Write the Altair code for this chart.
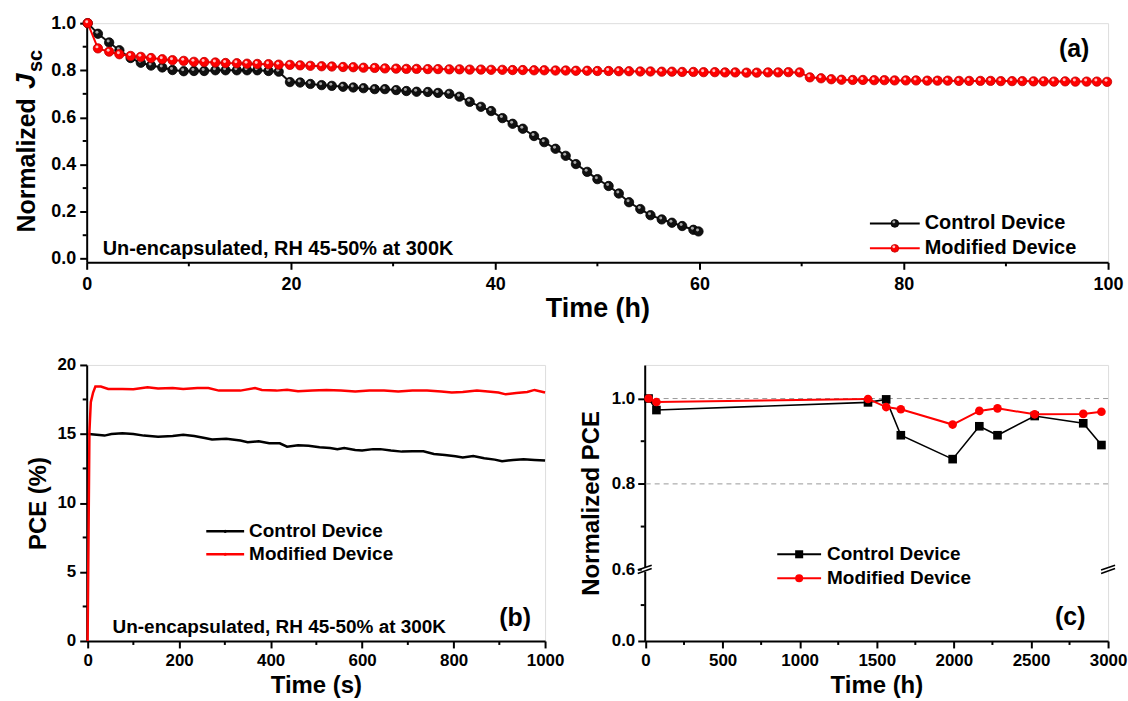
import altair as alt
import pandas as pd

FONT = "Liberation Sans"
BLACK = "#000000"
RED = "#ff0000"

# ---------------- (a) normalized Jsc during the humidity test ----------------
jsc_time = [0.1, 1.1, 2.2, 3.2, 4.3, 5.3, 6.3, 7.4, 8.4, 9.5,
            10.5, 11.5, 12.6, 13.6, 14.7, 15.7, 16.7, 17.8, 18.8, 19.9,
            20.9, 21.9, 23.0, 24.0, 25.1, 26.1, 27.1, 28.2, 29.2, 30.3,
            31.3, 32.3, 33.4, 34.4, 35.5, 36.5, 37.5, 38.6, 39.6, 40.7,
            41.7, 42.7, 43.8, 44.8, 45.9, 46.9, 47.9, 49.0, 50.0, 51.1,
            52.1, 53.1, 54.2, 55.2, 56.3, 57.3, 58.3, 59.4, 60.4, 61.5,
            62.5, 63.5, 64.6, 65.6, 66.7, 67.7, 68.7, 69.8, 70.8, 71.9,
            72.9, 73.9, 75.0, 76.0, 77.1, 78.1, 79.1, 80.2, 81.2, 82.3,
            83.3, 84.3, 85.4, 86.4, 87.5, 88.5, 89.5, 90.6, 91.6, 92.7,
            93.7, 94.7, 95.8, 96.8, 97.9, 98.9, 99.9]
jsc_time_control = jsc_time[:58] + [59.9]
jsc_control = [1.0, 0.955, 0.918, 0.885, 0.852, 0.832, 0.82, 0.812, 0.801, 0.796,
               0.797, 0.797, 0.8, 0.8, 0.8, 0.8, 0.8, 0.797, 0.794, 0.75,
               0.748, 0.742, 0.737, 0.734, 0.73, 0.727, 0.724, 0.72, 0.72, 0.716,
               0.712, 0.709, 0.708, 0.704, 0.70, 0.688, 0.666, 0.645, 0.627, 0.597,
               0.573, 0.552, 0.521, 0.495, 0.467, 0.437, 0.402, 0.369, 0.338, 0.309,
               0.277, 0.24, 0.211, 0.185, 0.167, 0.153, 0.139, 0.123, 0.116]
jsc_modified = [1.0, 0.893, 0.879, 0.868, 0.861, 0.857, 0.852, 0.847, 0.843, 0.84,
                0.836, 0.835, 0.833, 0.831, 0.83, 0.828, 0.827, 0.826, 0.824, 0.823,
                0.821, 0.819, 0.817, 0.816, 0.814, 0.813, 0.811, 0.81, 0.808, 0.807,
                0.806, 0.806, 0.805, 0.805, 0.804, 0.804, 0.803, 0.803, 0.802, 0.802,
                0.801, 0.801, 0.80, 0.80, 0.799, 0.799, 0.798, 0.798, 0.797, 0.797,
                0.796, 0.796, 0.795, 0.795, 0.794, 0.794, 0.793, 0.793, 0.792, 0.792,
                0.791, 0.791, 0.79, 0.79, 0.791, 0.791, 0.792, 0.791, 0.77, 0.766,
                0.762, 0.76, 0.759, 0.759, 0.758, 0.758, 0.757, 0.757, 0.757, 0.756,
                0.756, 0.756, 0.755, 0.755, 0.755, 0.755, 0.754, 0.754, 0.754, 0.753,
                0.753, 0.752, 0.753, 0.752, 0.752, 0.752, 0.751]
a_ticks_x = [0, 20, 40, 60, 80, 100]
a_minor_x = [10, 30, 50, 70, 90]
a_ticks_y = [0.0, 0.2, 0.4, 0.6, 0.8, 1.0]
a_minor_y = [0.1, 0.3, 0.5, 0.7, 0.9]

# ---------------- (b) PCE under continuous operation ----------------
pce_s_time_control = [2, 37, 52, 76, 100, 123, 154, 186, 209, 233,
                      256, 272, 303, 334, 350, 374, 397, 420, 436, 460,
                      483, 507, 530, 546, 561, 585, 600, 624, 640, 663,
                      687, 710, 734, 757, 781, 804, 820, 843, 867, 890,
                      906, 930, 953, 977, 1000]
pce_s_control = [15.0, 14.88, 15.0, 15.05, 15.0, 14.88, 14.8, 14.85, 14.95, 14.85,
                 14.7, 14.6, 14.66, 14.52, 14.4, 14.47, 14.32, 14.32, 14.08, 14.18,
                 14.15, 14.03, 13.98, 13.9, 13.98, 13.84, 13.8, 13.9, 13.9, 13.8,
                 13.72, 13.74, 13.74, 13.55, 13.48, 13.38, 13.3, 13.4, 13.24, 13.14,
                 13.02, 13.12, 13.16, 13.12, 13.07]
pce_s_time_modified = [0, 4, 7, 12, 17, 29, 45, 76, 100, 131,
                       154, 186, 209, 240, 264, 287, 334, 366, 381, 413,
                       436, 460, 491, 522, 554, 585, 616, 648, 679, 710,
                       742, 773, 796, 820, 851, 875, 898, 914, 937, 961,
                       977, 1000]
pce_s_modified = [0, 15.2, 17.3, 18.0, 18.43, 18.43, 18.26, 18.26, 18.24, 18.38,
                  18.29, 18.33, 18.26, 18.33, 18.33, 18.14, 18.14, 18.33, 18.19, 18.14,
                  18.21, 18.09, 18.14, 18.19, 18.14, 18.07, 18.14, 18.14, 18.07, 18.14,
                  18.14, 18.07, 18.0, 18.04, 18.14, 18.07, 18.0, 17.87, 17.97, 18.04,
                  18.19, 18.0]
b_ticks_x = [0, 200, 400, 600, 800, 1000]
b_minor_x = [100, 300, 500, 700, 900]
b_ticks_y = [0, 5, 10, 15, 20]
b_minor_y = [2.5, 7.5, 12.5, 17.5]

# ---------------- (c) long-term normalized PCE ----------------
pce_h_time = [20, 71, 1443, 1561, 1656, 1992, 2165, 2283, 2524, 2839, 2957]
pce_h_control = [1.0, 0.973, 0.991, 0.998, 0.914, 0.858, 0.935, 0.914, 0.959, 0.942, 0.891]
pce_h_modified = [1.0, 0.992, 0.999, 0.980, 0.975, 0.939, 0.971, 0.977, 0.963, 0.964, 0.969]
c_ticks_x = [0, 500, 1000, 1500, 2000, 2500, 3000]
c_minor_x = [250, 750, 1250, 1750, 2250, 2750]
c_ref_levels = [0.8, 1.0]
# broken y axis: the stretch 0.0 ... 0.6 is squeezed into a short segment,
# so "0.0" sits at a stand-in position just below the break at 0.6
C_BREAK = 0.6
C_ZERO = 0.4319
C_TOP = 1.0787
c_ticks_y = [C_ZERO, 0.6, 0.8, 1.0]
c_minor_y = [0.516, 0.7, 0.9]

SERIES = ["Control Device", "Modified Device"]
NOTE = "Un-encapsulated, RH 45-50% at 300K"

A_W, A_H = 1025, 240
B_W, C_W, BC_H = 460, 465, 277


def axis(**kw):
    base = dict(domainColor="black", domainWidth=2, tickColor="black", tickWidth=2,
                tickSize=7, labelFont=FONT, labelFontWeight="bold", labelColor="black",
                titleFont=FONT, titleFontWeight="bold", titleColor="black", grid=False,
                labelFlush=False, labelOverlap=False)
    base.update(kw)
    return alt.Axis(**base)


def minor_x(values, h, length=4):
    df = pd.DataFrame({"t": values})
    return alt.Chart(df).mark_rule(color="black", strokeWidth=2).encode(
        x="t:Q", y=alt.value(h), y2=alt.value(h + length))


def minor_y(values, length=4):
    df = pd.DataFrame({"v": values})
    return alt.Chart(df).mark_rule(color="black", strokeWidth=2).encode(
        y="v:Q", x=alt.value(0), x2=alt.value(-length))


def text(s, x, y, size, align="left", **kw):
    props = dict(align=align, baseline="middle", font=FONT, fontWeight="bold",
                 fontSize=size, color="black")
    props.update(kw)
    return alt.Chart(pd.DataFrame({"s": [s]})).mark_text(**props).encode(
        x=alt.value(x), y=alt.value(y), text="s:N")


def legend_row(name, color, x0, x1, xt, y, size, marker, line_w=2):
    lab = pd.DataFrame({"s": [name]})
    layers = [alt.Chart(lab).mark_rule(color=color, strokeWidth=line_w).encode(
        x=alt.value(x0), x2=alt.value(x1), y=alt.value(y))]
    xm = (x0 + x1) / 2
    for m in marker:
        layers.append(alt.Chart(lab).mark_point(opacity=1, filled=True, **m).encode(
            x=alt.value(xm), y=alt.value(y)))
    layers.append(alt.Chart(lab).mark_text(align="left", baseline="middle", font=FONT,
                                           fontWeight="bold", fontSize=size,
                                           color="black").encode(
        x=alt.value(xt), y=alt.value(y), text="s:N"))
    return layers


def sphere(color, rim, glint, size=75):
    return [dict(shape="circle", size=size, color=color, stroke=rim, strokeWidth=0.8),
            dict(shape="circle", size=8, color=glint, xOffset=-1, yOffset=-1.5)]


# ---------- panel (a) ----------
a_x = alt.X("t:Q", scale=alt.Scale(domain=[0, 100], nice=False, zero=False),
            axis=axis(values=a_ticks_x, title="Time (h)", labelFontSize=18,
                      titleFontSize=27, labelPadding=6, titlePadding=2))
a_y = alt.Y("v:Q", scale=alt.Scale(domain=[-0.015, 1.0], nice=False, zero=False),
            axis=axis(values=a_ticks_y, format=".1f", title=None, labelFontSize=18,
                      labelPadding=4))


def sphere_series(df, color, rim, glint):
    line = alt.Chart(df).mark_line(color=color, strokeWidth=2).encode(x=a_x, y=a_y)
    ball = alt.Chart(df).mark_circle(size=88, color=color, opacity=1, stroke=rim,
                                     strokeWidth=0.8).encode(x="t:Q", y="v:Q")
    shine = alt.Chart(df).mark_circle(size=9, color=glint, opacity=1, xOffset=-1,
                                      yOffset=-1.5).encode(x="t:Q", y="v:Q")
    return [line, ball, shine]


a_ctrl = pd.DataFrame({"t": jsc_time_control, "v": jsc_control})
a_mod = pd.DataFrame({"t": jsc_time, "v": jsc_modified})

a_layers = (sphere_series(a_ctrl, "#111111", "#000000", "#a8a8a8")
            + sphere_series(a_mod, RED, "#c00000", "#ffc4c4")
            + [minor_x(a_minor_x, A_H), minor_y(a_minor_y)]
            + legend_row(SERIES[0], BLACK, 786, 836, 841, 201, 20,
                         sphere("#111111", "#000000", "#a8a8a8", 60))
            + legend_row(SERIES[1], RED, 786, 836, 841, 226, 20,
                         sphere(RED, "#c00000", "#ffc4c4", 60))
            + [text(NOTE, 16, 227, 20),
               text("(a)", 991, 26, 25, align="center"),
               text("Normalized", -52, 210, 25, angle=270, baseline="alphabetic"),
               text("J", -52, 66, 28, angle=270, baseline="alphabetic",
                    fontStyle="italic"),
               text("sc", -45, 49, 20, angle=270, baseline="alphabetic")])
panel_a = alt.layer(*a_layers).properties(width=A_W, height=A_H)

# ---------- panel (b) ----------
b_x = alt.X("t:Q", scale=alt.Scale(domain=[-2, 1000], nice=False, zero=False),
            axis=axis(values=b_ticks_x, format="d", title="Time (s)", labelFontSize=17,
                      titleFontSize=24, labelPadding=5, titlePadding=5))
b_y = alt.Y("v:Q", scale=alt.Scale(domain=[0, 20], nice=False),
            axis=axis(values=b_ticks_y, title="PCE (%)", labelFontSize=17,
                      titleFontSize=24, labelPadding=4, titlePadding=6))
b_ctrl = pd.DataFrame({"t": pce_s_time_control, "v": pce_s_control})
b_mod = pd.DataFrame({"t": pce_s_time_modified, "v": pce_s_modified})
small_dot = lambda c: [dict(shape="circle", size=10, color=c)]
b_layers = ([alt.Chart(b_ctrl).mark_line(color=BLACK, strokeWidth=2.5).encode(x=b_x, y=b_y),
             alt.Chart(b_mod).mark_line(color=RED, strokeWidth=2.5).encode(x="t:Q", y="v:Q"),
             minor_x(b_minor_x, BC_H), minor_y(b_minor_y)]
            + legend_row(SERIES[0], BLACK, 120, 158, 163, 167, 19, small_dot(BLACK), 2.5)
            + legend_row(SERIES[1], RED, 120, 158, 163, 190, 19, small_dot(RED), 2.5)
            + [text(NOTE, 26, 263, 19),
               text("(b)", 430, 254, 25, align="center")])
panel_b = alt.layer(*b_layers).properties(width=B_W, height=BC_H)

# ---------- panel (c) ----------
c_x = alt.X("t:Q", scale=alt.Scale(domain=[-5, 3000], nice=False, zero=False),
            axis=axis(values=c_ticks_x, format="d", title="Time (h)", labelFontSize=17,
                      titleFontSize=24, labelPadding=5, titlePadding=5))
c_y = alt.Y("v:Q", scale=alt.Scale(domain=[C_ZERO, C_TOP], nice=False, zero=False),
            axis=axis(values=c_ticks_y, title="Normalized PCE", labelFontSize=17,
                      titleFontSize=24, labelPadding=3, titlePadding=8, zindex=0,
                      labelExpr="datum.value < 0.5 ? '0.0' : format(datum.value, '.1f')"))
c_ctrl = pd.DataFrame({"t": pce_h_time, "v": pce_h_control})
c_mod = pd.DataFrame({"t": pce_h_time, "v": pce_h_modified})
c_ref = pd.DataFrame({"v": c_ref_levels})
brk = pd.DataFrame({"v": [C_BREAK]})


def axis_break(xc):
    gap = alt.Chart(brk).mark_rect(color="white", yOffset=-2, y2Offset=2.5).encode(
        x=alt.value(xc - 3), x2=alt.value(xc + 3), y="v:Q", y2="v:Q")
    s1 = alt.Chart(brk).mark_rule(color="black", strokeWidth=1.6, yOffset=0.7,
                                  y2Offset=-4).encode(
        x=alt.value(xc - 7), x2=alt.value(xc + 7), y="v:Q", y2="v:Q")
    s2 = alt.Chart(brk).mark_rule(color="black", strokeWidth=1.6, yOffset=4.3,
                                  y2Offset=-0.7).encode(
        x=alt.value(xc - 7), x2=alt.value(xc + 7), y="v:Q", y2="v:Q")
    return [gap, s1, s2]


c_layers = ([alt.Chart(c_ref).mark_rule(color="#9a9a9a", strokeWidth=1,
                                        strokeDash=[5, 4]).encode(y=c_y),
             alt.Chart(c_ctrl).mark_line(color=BLACK, strokeWidth=1.6).encode(x=c_x, y="v:Q"),
             alt.Chart(c_ctrl).mark_square(color=BLACK, size=75, opacity=1).encode(x="t:Q", y="v:Q"),
             alt.Chart(c_mod).mark_line(color=RED, strokeWidth=2).encode(x="t:Q", y="v:Q"),
             alt.Chart(c_mod).mark_circle(color=RED, size=75, opacity=1).encode(x="t:Q", y="v:Q"),
             minor_x(c_minor_x, BC_H), minor_y(c_minor_y)]
            + axis_break(0) + axis_break(C_W)
            + legend_row(SERIES[0], BLACK, 133, 177, 183, 190, 19,
                         [dict(shape="square", size=65, color=BLACK)])
            + legend_row(SERIES[1], RED, 133, 177, 183, 214, 19,
                         [dict(shape="circle", size=65, color=RED)])
            + [text("(c)", 427, 253, 25, align="center")])
panel_c = alt.layer(*c_layers).properties(width=C_W, height=BC_H)

bottom = alt.hconcat(panel_b, panel_c, spacing=100, bounds="flush")
chart = (alt.vconcat(panel_a, bottom, spacing=103, bounds="flush")
         .properties(padding={"left": 12, "top": 12, "right": 0, "bottom": 0})
         .configure_view(stroke="black", strokeWidth=2)
         .configure(background="white"))

chart.save("out.html", embed_options={"renderer": "svg", "actions": False})
